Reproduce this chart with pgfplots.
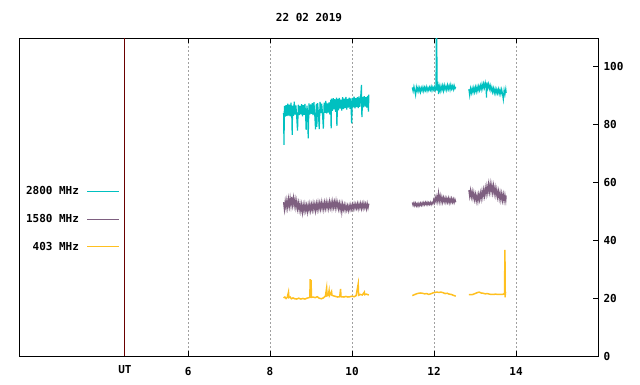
\documentclass[border=0pt]{standalone}
\usepackage{fontspec}
\setmainfont{DejaVu Sans Mono}
\newfontfamily\gp{DejaVu Sans Mono}
\usepackage{pgfplots}
\pgfplotsset{compat=1.18}
\definecolor{cyanL}{HTML}{00C0C0}
\definecolor{purpL}{HTML}{7E5F80}
\definecolor{orgL}{HTML}{FFC020}
\definecolor{utred}{HTML}{6A0000}
\definecolor{gridg}{HTML}{A0A0A0}
\newcommand{\gpfont}{\gp\bfseries\fontsize{11}{13}\selectfont}
\begin{document}
\begin{tikzpicture}
\begin{axis}[
  at={(0,0)}, anchor=south west,
  scale only axis, width=578pt, height=318pt,
  xmin=1.9, xmax=16, ymin=0, ymax=110,
  axis line style={black, line width=1pt},
  unbounded coords=jump,
  xtick={6,8,10,12,14},
  xticklabels={6,8,10,12,14},
  xtick pos=both,
  ytick={0,20,40,60,80,100},
  ytick pos=right, yticklabel pos=right,
  tick align=inside,
  major tick length=5pt,
  tick style={black, line width=1pt},
  xmajorgrids,
  major grid style={gridg, dash pattern=on 2pt off 2pt, line width=1pt},
  extra x ticks={4.46},
  extra x tick labels={UT},
  extra x tick style={grid=major, major grid style={solid, utred, line width=1pt}, major tick length=0pt, xticklabel style={yshift=2pt}},
  /pgf/number format/assume math mode=true,
  ticklabel style={font=\gpfont},
  xticklabel style={yshift=-8pt},
  yticklabel style={xshift=2pt},
  title={22 02 2019},
  title style={font=\gpfont, at={(0.5,1)}, anchor=center, yshift=14pt},
  legend plot pos=right,
  legend cell align=right,
  legend style={draw=none, fill=none, font=\gpfont, at={(rel axis cs:0.173,0.43)}, anchor=east,
    row sep=18pt, column sep=8pt, inner sep=0pt, outer sep=0pt,
    nodes={inner sep=0pt, outer sep=0pt}},
  legend image code/.code={\draw[#1, line width=1pt] (0pt,0pt) -- (32pt,0pt);},
]
% 2800 MHz
\addplot[cyanL, line width=1.2pt] coordinates {
(8.33,84.0)(8.34,73.0)(8.35,86.5)(8.37,82.8)(8.39,86.8)(8.41,83.0)(8.43,87.3)(8.45,83.2)(8.47,86.9)(8.49,82.9)
(8.51,87.6)(8.53,83.4)(8.54,76.5)(8.55,86.6)(8.57,83.1)(8.59,88.0)(8.61,83.5)(8.63,86.7)(8.65,82.8)(8.67,78.0)
(8.69,86.9)(8.71,83.3)(8.73,86.5)(8.75,83.6)(8.77,87.1)(8.79,82.9)(8.81,86.8)(8.83,83.4)(8.85,87.2)(8.87,82.6)
(8.88,78.2)(8.90,86.6)(8.92,83.0)(8.93,75.3)(8.95,87.4)(8.97,83.5)(8.99,87.0)(9.01,83.8)(9.03,87.5)(9.05,83.3)
(9.07,87.8)(9.09,83.6)(9.11,78.4)(9.13,87.2)(9.14,79.3)(9.16,87.5)(9.18,83.8)(9.20,78.5)(9.22,87.9)(9.24,84.0)
(9.26,87.3)(9.28,83.7)(9.30,78.7)(9.32,87.6)(9.34,84.1)(9.36,88.2)(9.38,83.9)(9.40,87.4)(9.42,84.2)(9.44,87.7)
(9.46,83.5)(9.48,88.6)(9.49,78.7)(9.50,89.0)(9.52,84.8)(9.54,89.2)(9.56,85.3)(9.58,88.8)(9.60,84.5)(9.62,89.4)
(9.63,79.6)(9.65,88.9)(9.67,85.0)(9.69,89.3)(9.71,85.6)(9.73,88.7)(9.75,84.9)(9.77,89.5)(9.79,85.4)(9.81,89.0)
(9.83,85.8)(9.85,89.6)(9.87,85.2)(9.89,88.9)(9.91,85.9)(9.93,89.4)(9.95,85.5)(9.97,89.1)(9.99,80.5)(10.01,89.3)
(10.03,86.0)(10.05,89.7)(10.07,85.7)(10.09,89.2)(10.11,86.1)(10.13,89.5)(10.15,85.8)(10.17,89.8)(10.19,86.2)(10.21,89.4)
(10.23,93.8)(10.24,82.6)(10.26,89.6)(10.28,86.0)(10.30,89.9)(10.32,86.3)(10.34,89.5)(10.36,85.9)(10.38,90.0)(10.40,84.5)(10.41,90.4)
(10.9,nan)
(11.47,92.9)(11.49,91.6)(11.51,93.2)(11.53,91.8)(11.55,90.3)(11.57,93.0)(11.59,91.7)(11.61,92.9)(11.63,91.5)(11.65,92.7)
(11.67,91.3)(11.69,92.8)(11.71,91.8)(11.73,93.0)(11.75,91.6)(11.77,92.9)(11.79,91.9)(11.81,93.1)(11.83,91.7)(11.85,92.8)
(11.87,91.9)(11.89,93.0)(11.91,92.0)(11.93,93.2)(11.95,91.8)(11.97,93.0)(11.99,92.1)(12.01,93.1)(12.03,91.9)(12.05,93.0)
(12.052,115)(12.056,92.0)(12.06,115)(12.064,92.0)(12.068,115)(12.072,91.8)(12.09,94.9)(12.11,90.6)(12.13,93.2)(12.15,91.7)
(12.17,93.4)(12.19,92.0)(12.21,93.5)(12.23,91.8)(12.25,93.6)(12.27,92.2)(12.29,93.3)(12.31,92.0)(12.33,93.7)(12.35,92.3)
(12.37,93.5)(12.39,92.1)(12.41,93.8)(12.43,92.4)(12.45,93.4)(12.47,92.2)(12.49,93.6)(12.51,92.5)(12.53,93.1)
(12.7,nan)
(12.85,92.3)(12.87,90.2)(12.89,92.5)(12.91,91.0)(12.93,92.6)(12.95,91.2)(12.97,92.8)(12.99,91.3)(13.01,93.0)(13.03,91.5)
(13.05,93.1)(13.07,91.7)(13.09,93.3)(13.11,92.0)(13.13,93.6)(13.15,92.2)(13.17,94.0)(13.19,92.5)(13.21,94.2)(13.23,92.8)
(13.25,94.5)(13.27,92.9)(13.28,89.4)(13.29,94.6)(13.31,92.8)(13.33,94.1)(13.35,92.4)(13.37,93.6)(13.39,91.8)(13.41,93.0)
(13.43,91.3)(13.45,92.6)(13.47,91.0)(13.49,92.4)(13.51,90.8)(13.53,92.2)(13.55,90.9)(13.57,92.3)(13.59,90.7)(13.61,92.1)
(13.63,90.6)(13.65,92.2)(13.67,90.8)(13.69,88.8)(13.71,92.0)(13.73,90.5)(13.75,92.3)(13.76,91.0)
};
\addlegendentry{2800 MHz}
% 1580 MHz
\addplot[purpL, line width=1.2pt] coordinates {
(8.33,53.2)(8.35,50.6)(8.37,53.5)(8.39,51.2)(8.41,53.9)(8.43,51.4)(8.45,54.3)(8.47,51.8)(8.49,54.6)(8.51,52.0)
(8.53,55.0)(8.55,52.2)(8.57,54.7)(8.59,52.0)(8.61,54.2)(8.63,51.4)(8.65,53.6)(8.67,50.9)(8.69,53.0)(8.71,50.5)
(8.73,52.6)(8.75,50.2)(8.77,52.4)(8.79,49.6)(8.81,52.2)(8.83,50.1)(8.85,52.5)(8.87,50.3)(8.89,52.1)(8.91,49.8)
(8.93,52.3)(8.95,50.4)(8.97,52.6)(8.99,50.3)(9.01,52.4)(9.03,50.5)(9.05,52.8)(9.07,50.6)(9.09,52.5)(9.11,50.2)
(9.13,52.7)(9.15,50.7)(9.17,53.0)(9.19,50.8)(9.21,52.9)(9.23,50.9)(9.25,53.2)(9.27,51.0)(9.29,52.8)(9.31,50.7)
(9.33,53.1)(9.35,51.1)(9.37,53.3)(9.39,51.2)(9.41,53.0)(9.43,51.0)(9.45,53.4)(9.47,51.3)(9.49,53.2)(9.51,51.1)
(9.53,53.5)(9.55,51.4)(9.57,53.3)(9.59,51.2)(9.61,53.6)(9.63,51.4)(9.65,53.1)(9.67,50.9)(9.69,52.8)(9.71,50.6)
(9.73,52.6)(9.75,49.8)(9.77,52.5)(9.79,50.7)(9.81,52.3)(9.83,50.4)(9.85,52.2)(9.87,50.5)(9.89,52.0)(9.91,50.3)
(9.93,52.1)(9.95,50.6)(9.97,52.3)(9.99,50.8)(10.01,52.4)(10.03,50.9)(10.05,52.6)(10.07,51.0)(10.09,52.5)(10.11,51.1)
(10.13,52.7)(10.15,50.9)(10.17,52.6)(10.19,51.2)(10.21,52.8)(10.23,51.0)(10.25,52.7)(10.27,51.1)(10.29,52.9)(10.31,51.3)
(10.33,52.6)(10.35,50.9)(10.37,52.8)(10.39,51.2)(10.41,52.7)
(10.9,nan)
(11.47,53.1)(11.49,52.1)(11.51,53.0)(11.53,52.0)(11.55,52.9)(11.57,51.9)(11.59,52.7)(11.61,51.8)(11.63,52.8)(11.65,52.0)
(11.67,52.9)(11.69,52.1)(11.71,53.0)(11.73,52.2)(11.75,53.1)(11.77,52.3)(11.79,53.2)(11.81,52.4)(11.83,53.2)(11.85,52.3)
(11.87,53.1)(11.89,52.4)(11.91,53.2)(11.93,52.3)(11.95,53.1)(11.97,52.6)(11.99,54.0)(12.01,53.0)(12.03,54.8)(12.05,53.4)
(12.07,55.2)(12.09,53.5)(12.11,56.3)(12.13,53.6)(12.15,55.4)(12.17,53.3)(12.19,55.0)(12.21,53.2)(12.23,54.8)(12.25,53.4)
(12.27,54.7)(12.29,53.1)(12.31,54.5)(12.33,53.2)(12.35,54.6)(12.37,53.0)(12.39,54.4)(12.41,53.1)(12.43,54.5)(12.45,53.2)
(12.47,54.3)(12.49,53.0)(12.51,54.2)(12.53,53.2)
(12.7,nan)
(12.85,57.4)(12.87,55.2)(12.89,57.3)(12.91,55.0)(12.93,56.9)(12.95,54.6)(12.97,56.5)(12.99,54.1)(13.01,55.9)(13.03,53.6)
(13.05,55.6)(13.07,53.5)(13.09,55.9)(13.11,54.0)(13.13,56.4)(13.15,54.4)(13.17,57.0)(13.19,54.9)(13.21,57.5)(13.23,55.4)
(13.25,58.1)(13.27,55.9)(13.29,58.7)(13.31,56.5)(13.33,59.4)(13.35,56.8)(13.37,59.6)(13.39,56.9)(13.41,59.2)(13.43,56.5)
(13.45,58.9)(13.47,56.2)(13.49,58.3)(13.51,55.6)(13.53,57.6)(13.55,55.0)(13.57,57.0)(13.59,54.4)(13.61,56.5)(13.63,54.0)
(13.65,56.2)(13.67,53.8)(13.69,55.9)(13.71,53.6)(13.73,55.7)(13.75,53.7)(13.76,55.5)
};
\addlegendentry{1580 MHz}
% 403 MHz
\addplot[orgL, line width=1.5pt] coordinates {
(8.33,20.1)(8.36,20.4)(8.39,19.9)(8.42,20.3)(8.45,22.1)(8.46,20.2)(8.49,20.4)(8.52,19.8)(8.56,20.1)(8.60,19.8)
(8.65,19.7)(8.70,20.0)(8.75,19.7)(8.80,19.9)(8.85,19.7)(8.90,20.0)(8.95,20.2)(8.97,20.3)(8.98,26.6)(8.99,20.1)
(9.00,26.3)(9.01,20.3)(9.05,20.4)(9.10,20.2)(9.15,20.5)(9.20,20.0)(9.25,19.8)(9.30,20.1)(9.35,20.7)(9.38,23.5)
(9.39,20.8)(9.42,21.0)(9.44,22.6)(9.45,20.9)(9.50,22.3)(9.51,21.0)(9.55,20.8)(9.60,20.6)(9.65,20.4)(9.70,20.5)
(9.72,23.2)(9.73,20.5)(9.80,20.4)(9.85,20.6)(9.90,20.4)(9.95,20.5)(10.00,20.7)(10.05,20.5)(10.10,20.9)(10.15,24.9)
(10.16,21.0)(10.20,21.3)(10.25,21.1)(10.30,22.1)(10.31,21.2)(10.35,21.4)(10.41,21.1)
(10.9,nan)
(11.47,20.9)(11.52,21.2)(11.57,21.5)(11.62,21.7)(11.67,21.8)(11.72,21.7)(11.77,21.5)(11.82,21.6)(11.87,21.3)(11.92,21.5)
(11.97,21.8)(12.02,22.0)(12.07,22.1)(12.12,22.0)(12.17,22.1)(12.22,21.9)(12.27,21.6)(12.32,21.7)(12.37,21.4)(12.42,21.3)
(12.47,21.0)(12.53,20.7)
(12.7,nan)
(12.85,21.2)(12.90,21.2)(12.95,21.3)(13.00,21.6)(13.05,21.9)(13.10,22.1)(13.15,21.8)(13.20,21.7)(13.25,21.5)(13.30,21.6)
(13.35,21.4)(13.40,21.3)(13.45,21.3)(13.50,21.4)(13.55,21.3)(13.60,21.3)(13.65,21.3)(13.70,21.4)(13.72,21.8)(13.73,36.7)
(13.735,20.3)(13.74,22.0)(13.76,22.1)
};
\addlegendentry{403 MHz}
\end{axis}
\pgfresetboundingbox
\path[use as bounding box] (-20pt,-28pt) rectangle (620pt,356pt);
\end{tikzpicture}
\end{document}
